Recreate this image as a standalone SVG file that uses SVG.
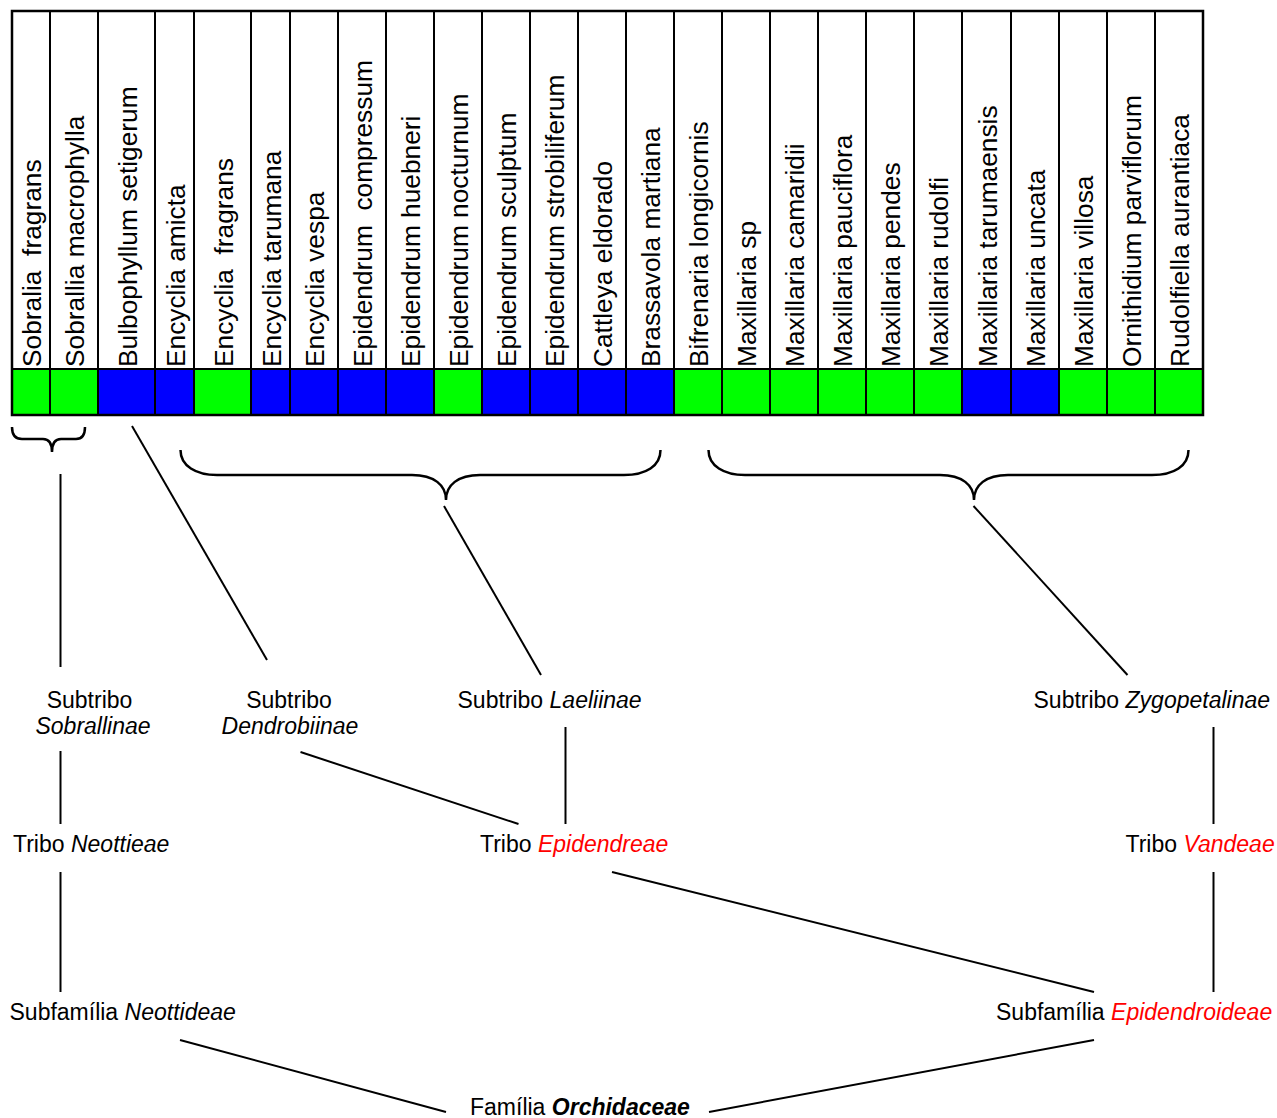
<svg xmlns="http://www.w3.org/2000/svg" width="1277" height="1118" viewBox="0 0 1277 1118">
<style>
.sp{font-family:"Liberation Sans",Arial,sans-serif;font-size:26.3px;fill:#000}
.lb{font-family:"Liberation Sans",Arial,sans-serif;font-size:23px;fill:#000}
.it{font-style:italic}
.red{fill:#FF0000}
.g{fill:#00FF00}
.b{fill:#0000FF}
.grid{stroke:#000;stroke-width:2;fill:none}
.con{stroke:#000;stroke-width:2;fill:none}
.br{stroke:#000;stroke-width:2.5;fill:none}
</style>
<rect width="1277" height="1118" fill="#fff"/>
<g id="table">
<g id="col1"><rect class="g" x="12" y="369" width="38" height="46"/><text class="sp" transform="translate(41,367) rotate(-90)" xml:space="preserve">Sobralia  fragrans</text></g>
<g id="col2"><rect class="g" x="50" y="369" width="48" height="46"/><text class="sp" transform="translate(84,367) rotate(-90)">Sobrallia macrophylla</text></g>
<g id="col3"><rect class="b" x="98" y="369" width="57" height="46"/><text class="sp" transform="translate(136.5,367) rotate(-90)">Bulbophyllum setigerum</text></g>
<g id="col4"><rect class="b" x="155" y="369" width="39" height="46"/><text class="sp" transform="translate(184.5,367) rotate(-90)">Encyclia amicta</text></g>
<g id="col5"><rect class="g" x="194" y="369" width="57" height="46"/><text class="sp" transform="translate(232.5,367) rotate(-90)" xml:space="preserve">Encyclia  fragrans</text></g>
<g id="col6"><rect class="b" x="251" y="369" width="39" height="46"/><text class="sp" transform="translate(280.5,367) rotate(-90)">Encyclia tarumana</text></g>
<g id="col7"><rect class="b" x="290" y="369" width="48" height="46"/><text class="sp" transform="translate(324,367) rotate(-90)">Encyclia vespa</text></g>
<g id="col8"><rect class="b" x="338" y="369" width="48" height="46"/><text class="sp" transform="translate(372,367) rotate(-90)" xml:space="preserve">Epidendrum  compressum</text></g>
<g id="col9"><rect class="b" x="386" y="369" width="48" height="46"/><text class="sp" transform="translate(420,367) rotate(-90)">Epidendrum huebneri</text></g>
<g id="col10"><rect class="g" x="434" y="369" width="48" height="46"/><text class="sp" transform="translate(468,367) rotate(-90)">Epidendrum nocturnum</text></g>
<g id="col11"><rect class="b" x="482" y="369" width="48" height="46"/><text class="sp" transform="translate(516,367) rotate(-90)">Epidendrum sculptum</text></g>
<g id="col12"><rect class="b" x="530" y="369" width="48" height="46"/><text class="sp" transform="translate(564,367) rotate(-90)">Epidendrum strobiliferum</text></g>
<g id="col13"><rect class="b" x="578" y="369" width="48" height="46"/><text class="sp" transform="translate(612,367) rotate(-90)">Cattleya eldorado</text></g>
<g id="col14"><rect class="b" x="626" y="369" width="48" height="46"/><text class="sp" transform="translate(660,367) rotate(-90)">Brassavola martiana</text></g>
<g id="col15"><rect class="g" x="674" y="369" width="48" height="46"/><text class="sp" transform="translate(708,367) rotate(-90)">Bifrenaria longicornis</text></g>
<g id="col16"><rect class="g" x="722" y="369" width="48" height="46"/><text class="sp" transform="translate(756,367) rotate(-90)">Maxillaria sp</text></g>
<g id="col17"><rect class="g" x="770" y="369" width="48" height="46"/><text class="sp" transform="translate(804,367) rotate(-90)">Maxillaria camaridii</text></g>
<g id="col18"><rect class="g" x="818" y="369" width="48" height="46"/><text class="sp" transform="translate(852,367) rotate(-90)">Maxillaria pauciflora</text></g>
<g id="col19"><rect class="g" x="866" y="369" width="48" height="46"/><text class="sp" transform="translate(900,367) rotate(-90)">Maxillaria pendes</text></g>
<g id="col20"><rect class="g" x="914" y="369" width="48" height="46"/><text class="sp" transform="translate(948,367) rotate(-90)">Maxillaria rudolfi</text></g>
<g id="col21"><rect class="b" x="962" y="369" width="49" height="46"/><text class="sp" transform="translate(996.5,367) rotate(-90)">Maxillaria tarumaensis</text></g>
<g id="col22"><rect class="b" x="1011" y="369" width="48" height="46"/><text class="sp" transform="translate(1045,367) rotate(-90)">Maxillaria uncata</text></g>
<g id="col23"><rect class="g" x="1059" y="369" width="48" height="46"/><text class="sp" transform="translate(1093,367) rotate(-90)">Maxillaria villosa</text></g>
<g id="col24"><rect class="g" x="1107" y="369" width="48" height="46"/><text class="sp" transform="translate(1141,367) rotate(-90)">Ornithidium parviflorum</text></g>
<g id="col25"><rect class="g" x="1155" y="369" width="48" height="46"/><text class="sp" transform="translate(1189,367) rotate(-90)">Rudolfiella aurantiaca</text></g>
<path class="grid" d="M50,11V415M98,11V415M155,11V415M194,11V415M251,11V415M290,11V415M338,11V415M386,11V415M434,11V415M482,11V415M530,11V415M578,11V415M626,11V415M674,11V415M722,11V415M770,11V415M818,11V415M866,11V415M914,11V415M962,11V415M1011,11V415M1059,11V415M1107,11V415M1155,11V415M12,369H1203"/>
<rect x="12" y="11" width="1191" height="404" fill="none" stroke="#000" stroke-width="2.5"/>
</g>
<g id="n-sobrallinae"><text class="lb" x="89.5" y="708" text-anchor="middle">Subtribo</text><text class="lb it" x="93" y="734" text-anchor="middle">Sobrallinae</text></g>
<g id="n-dendrobiinae"><text class="lb" x="289" y="708" text-anchor="middle">Subtribo</text><text class="lb it" x="290" y="734" text-anchor="middle">Dendrobiinae</text></g>
<g id="n-laeliinae"><text class="lb" x="457.5" y="708">Subtribo <tspan class="it">Laeliinae</tspan></text></g>
<g id="n-zygopetalinae"><text class="lb" x="1033.5" y="708">Subtribo <tspan class="it">Zygopetalinae</tspan></text></g>
<g id="n-neottieae"><text class="lb" x="13" y="852">Tribo <tspan class="it">Neottieae</tspan></text></g>
<g id="n-epidendreae"><text class="lb" x="480" y="852">Tribo <tspan class="it red">Epidendreae</tspan></text></g>
<g id="n-vandeae"><text class="lb" x="1125.5" y="852">Tribo <tspan class="it red">Vandeae</tspan></text></g>
<g id="n-neottideae"><text class="lb" x="9.5" y="1020">Subfamília <tspan class="it">Neottideae</tspan></text></g>
<g id="n-epidendroideae"><text class="lb" x="996" y="1020">Subfamília <tspan class="it red">Epidendroideae</tspan></text></g>
<g id="n-orchidaceae"><text class="lb" x="470" y="1115">Família <tspan class="it" font-weight="bold">Orchidaceae</tspan></text></g>
<g id="connectors">
<path class="br" d="M12,427 C12,435 15,439 22,439 H43 C49,439 52,444 52,452 C52,444 55,439 61,439 H76 C82,439 85,435 85,427"/>
<path id="brace1" class="br" d="M180.5,450 C180.5,466 196,475 217,475 H412 C434,475 446,485 446,500 C446,485 458,475 480,475 H624 C646,475 660.5,466 660.5,450"/>
<path class="br" transform="translate(528,0)" d="M180.5,450 C180.5,466 196,475 217,475 H412 C434,475 446,485 446,500 C446,485 458,475 480,475 H624 C646,475 660.5,466 660.5,450"/>
<line class="con" x1="60.5" y1="474" x2="60.5" y2="667"/>
<line class="con" x1="132" y1="426" x2="267" y2="660"/>
<line class="con" x1="444" y1="506" x2="541" y2="675"/>
<line class="con" x1="973.5" y1="506" x2="1127.5" y2="675"/>
<line class="con" x1="60.5" y1="751" x2="60.5" y2="824"/>
<line class="con" x1="300.5" y1="752" x2="518.5" y2="824"/>
<line class="con" x1="565.5" y1="727" x2="565.5" y2="824"/>
<line class="con" x1="1213.5" y1="727" x2="1213.5" y2="824"/>
<line class="con" x1="60.5" y1="872" x2="60.5" y2="992"/>
<line class="con" x1="612" y1="872" x2="1094" y2="992"/>
<line class="con" x1="1213.5" y1="872" x2="1213.5" y2="992"/>
<line class="con" x1="180" y1="1040" x2="446" y2="1112"/>
<line class="con" x1="1094" y1="1040" x2="709" y2="1112"/>
</g>
</svg>
